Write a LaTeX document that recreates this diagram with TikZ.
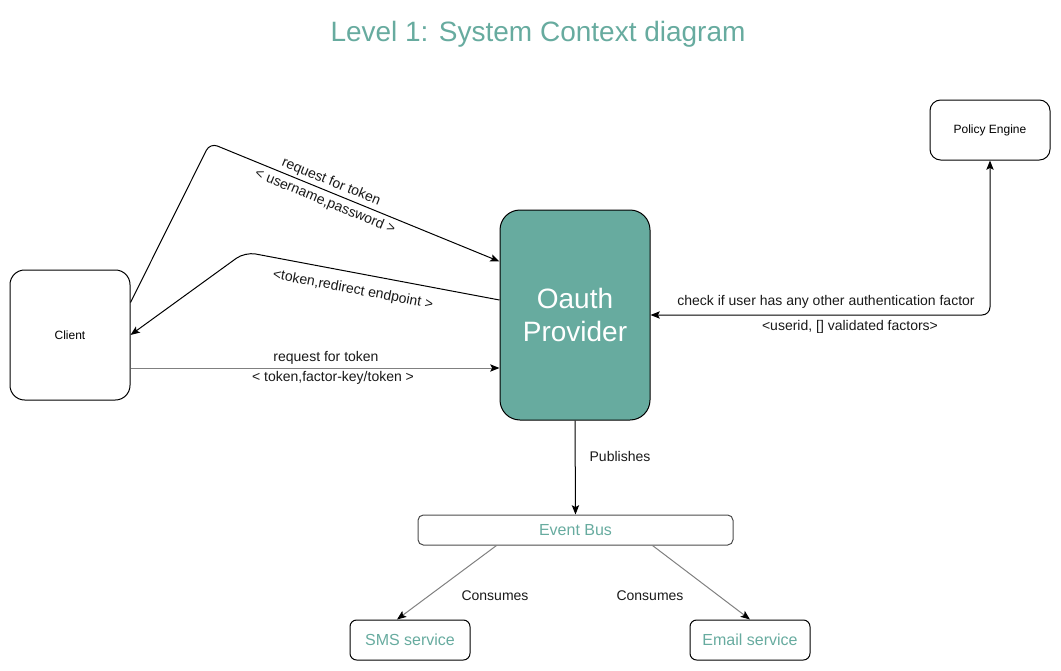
\documentclass[tikz,border=0pt]{standalone}
\usepackage{fontspec}
\setmainfont{Liberation Sans}
\usetikzlibrary{arrows.meta,calc}
\definecolor{teal1}{HTML}{67AB9F}
\definecolor{grayline}{HTML}{808080}
\begin{document}
\begin{tikzpicture}[x=0.75pt,y=-0.75pt,
  box/.style={draw=black,line width=0.75pt,rounded corners=8pt,align=center,inner sep=0pt},
  arr/.style={line width=0.75pt,-{Stealth[length=7pt,width=5.5pt,inset=1.5pt]}},
  garr/.style={line width=0.75pt,draw=grayline,-{Stealth[length=7pt,width=5.5pt,inset=1.5pt,color=black]}},
  lbl/.style={font=\fontsize{10.5}{13}\selectfont,text=black!90,align=center,inner sep=0pt}]
\useasboundingbox (0,0) rectangle (1061,671);
\node[text=teal1,font=\fontsize{21}{25}\selectfont] (title) at (538,34) {Level 1: System Context diagram};
\node[box,minimum width=90pt,minimum height=97.5pt,rounded corners=11pt,font=\fontsize{9}{11}\selectfont] (client) at (70,335) {Client};
\node[box,fill=teal1,minimum width=112.5pt,minimum height=157.5pt,rounded corners=15pt,text=white,font=\fontsize{21}{25}\selectfont] (oauth) at (575,315) {Oauth\\Provider};
\node[box,minimum width=90pt,minimum height=45pt,font=\fontsize{9}{11}\selectfont] (policy) at (990,130) {Policy Engine};
\node[box,draw=black!70,minimum width=236.25pt,minimum height=22.5pt,rounded corners=4pt,text=teal1,font=\fontsize{12}{14}\selectfont] (bus) at (575.5,530) {Event Bus};
\node[box,minimum width=90pt,minimum height=30pt,rounded corners=5pt,text=teal1,font=\fontsize{12}{14}\selectfont] (sms) at (410,640) {SMS service};
\node[box,minimum width=90pt,minimum height=30pt,rounded corners=5pt,text=teal1,font=\fontsize{12}{14}\selectfont] (email) at (750,640) {Email service};
\coordinate (c1) at (210,143);
\coordinate (c2) at (245,252);
\coordinate (c3) at (990,315);
% request with username/password
\draw[arr,rounded corners=6pt] ($(client.north east)+(0,33)$) -- (c1) -- ($(oauth.north west)+(0,52)$);
\node[lbl,rotate=-22.3] (l1) at (331,182) {request for token};
\node[lbl,rotate=-22.3] (l1b) at (325,202) {< username,password >};
% token redirect
\draw[arr,rounded corners=8pt] ($(oauth.west)+(0,-15)$) -- (c2) -- (client.east);
\node[lbl,rotate=-10.7] (l2) at (353,290) {<token,redirect endpoint >};
% request with factor key
\draw[garr] ($(client.east)+(0,33)$) -- ($(oauth.west)+(0,53)$);
\node[lbl] (l3) at (326,358) {request for token};
\node[lbl] (l4) at (333,378) {< token,factor-key/token >};
% policy engine
\draw[line width=0.75pt,{Stealth[length=7pt,width=5.5pt,inset=1.5pt]}-{Stealth[length=7pt,width=5.5pt,inset=1.5pt]},rounded corners=6pt] (oauth.east) -- (c3) -- (policy.south);
\node[lbl] (l5) at (826,302) {check if user has any other authentication factor};
\node[lbl] (l6) at (850,327) {<userid, [] validated factors>};
% publishes
\draw[arr] (oauth.south) -- (bus.north);
\node[lbl] (l7) at (620,456) {Publishes};
% consumes
\draw[garr] ($(bus.south west)+(79,0)$) -- ($(sms.north)+(-13,0)$);
\draw[garr] ($(bus.south west)+(235,0)$) -- (email.north);
\node[lbl] (l8) at (495,596) {Consumes};
\node[lbl] (l9) at (650,596) {Consumes};
\end{tikzpicture}
\end{document}
